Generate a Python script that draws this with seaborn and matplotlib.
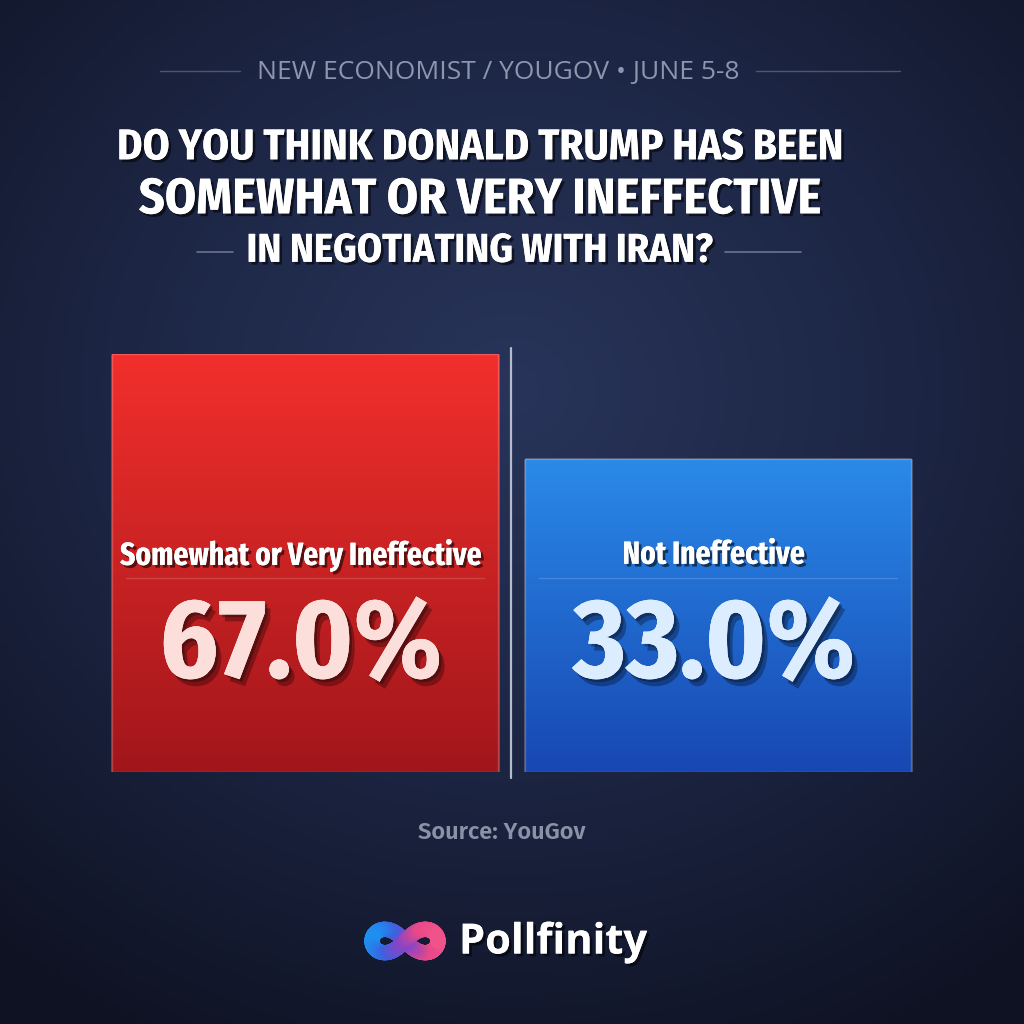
import numpy as np
import pandas as pd
import seaborn as sns
import matplotlib.pyplot as plt
import matplotlib.patheffects as pe
import matplotlib.transforms as mtrans
from matplotlib.colors import LinearSegmentedColormap
from matplotlib.collections import LineCollection

# data
categories = ["Somewhat or Very Ineffective", "Not Ineffective"]
values = [67.0, 33.0]
header = "NEW ECONOMIST / YOUGOV \u2022 JUNE 5-8"
title_lines = ["DO YOU THINK DONALD TRUMP HAS BEEN",
               "SOMEWHAT OR VERY INEFFECTIVE",
               "IN NEGOTIATING WITH IRAN?"]
source = "Source: YouGov"
brand = "Pollfinity"

# style
bar_top = ["#f22f2c", "#2a8ae8"]
bar_bottom = ["#a1161b", "#1747b3"]
pct_color = ["#fcdedb", "#dcedff"]
FLOOR = 68  # bars sit on a visual floor below zero

sns.set_theme(style="white")
COND = ["Fira Sans Condensed", "DejaVu Sans"]
XCOND = ["Fira Sans Extra Condensed", "DejaVu Sans"]
FIRA = ["Fira Sans", "DejaVu Sans"]
OPEN = ["Open Sans", "DejaVu Sans"]
plt.rcParams["font.family"] = ["DejaVu Sans"]

W = 1024
fig = plt.figure(figsize=(10.24, 10.24), dpi=100)

# background, pixel coords (y down)
bg = fig.add_axes([0, 0, 1, 1])
bg.set_axis_off()
yy, xx = np.mgrid[0:1:300j, 0:1:300j]
r = np.sqrt((xx - 0.5) ** 2 + ((yy - 0.38) * 1.1) ** 2)
bg_cmap = LinearSegmentedColormap.from_list("bg", ["#28345a", "#1c2543", "#0e1222"])
bg.imshow(r, cmap=bg_cmap, extent=[0, W, W, 0], aspect="auto", vmin=0, vmax=0.8)
bg.set_xlim(0, W)
bg.set_ylim(W, 0)

shadow = [pe.withSimplePatchShadow(offset=(2, -2), shadow_rgbFace="black", alpha=0.55), pe.Normal()]

# header
bg.text(498, 73, header, ha="center", va="center", fontsize=19, color="#8d96ad", family=OPEN)
for x0, x1 in [(160, 240), (756, 900)]:
    bg.plot([x0, x1], [71, 71], color="#5a6480", lw=1, alpha=0.8)

# title
title_y = [148, 200, 251]
title_fs = [31, 36, 29]
for txt, y, fs in zip(title_lines, title_y, title_fs):
    bg.text(480, y, txt, ha="center", va="center", fontsize=fs, color="white",
            family=COND, fontweight="bold", path_effects=shadow)
for x0, x1 in [(197, 233), (725, 801)]:
    bg.plot([x0, x1], [252, 252], color="#7d87a0", lw=1.2, alpha=0.8)

# bars
ax = fig.add_axes([98.5 / W, 1 - 772 / W, 826 / W, 418 / W])
ax.patch.set_alpha(0)
df = pd.DataFrame({"category": categories, "value": values})
df["height"] = df["value"] + FLOOR
sns.barplot(data=df, x="category", y="height", hue="category", palette=bar_bottom,
            legend=False, width=0.935, saturation=1, bottom=-FLOOR, ax=ax)
ax.set_axis_off()

grad = np.linspace(0, 1, 256).reshape(-1, 1)
for i, patch in enumerate(list(ax.patches)):
    x0, y0 = patch.get_x(), patch.get_y()
    w, h = patch.get_width(), patch.get_height()
    cm = LinearSegmentedColormap.from_list("g%d" % i, [bar_top[i], bar_bottom[i]])
    im = ax.imshow(grad, cmap=cm, extent=[x0, x0 + w, y0, y0 + h], aspect="auto",
                   origin="upper", zorder=3)
    im.set_clip_path(patch)
    ax.add_patch(plt.Rectangle((x0, y0), w, h, fill=False, ec="white", lw=1, alpha=0.2, zorder=4))
ax.set_xlim(-0.5, 1.5)
ax.set_ylim(-FLOOR, max(values))

# texts in bars: x from bar axes, y in pixels
tr = mtrans.blended_transform_factory(ax.transData, bg.transData)
pct_shadow = [pe.withSimplePatchShadow(offset=(4, -5), shadow_rgbFace="black", alpha=0.3),
              pe.withSimplePatchShadow(offset=(2, -2), shadow_rgbFace="black", alpha=0.3),
              pe.Normal()]
for i, patch in enumerate(ax.patches[:len(categories)]):
    cx = patch.get_x() + patch.get_width() / 2
    ax.text(cx - 0.01, 555, categories[i], transform=tr, ha="center", va="center", fontsize=23,
            color="white", family=XCOND, fontweight="bold", path_effects=shadow, zorder=6)
    ax.plot([patch.get_x() + 0.035, patch.get_x() + patch.get_width() - 0.035], [578, 578],
            transform=tr, color="white", alpha=0.15, lw=1, zorder=5)
    ax.text(cx - 0.01, 647, "%.1f%%" % values[i], transform=tr, ha="center", va="center", fontsize=81,
            color=pct_color[i], family=COND, fontweight="bold", zorder=6, path_effects=pct_shadow)

# divider
bg.plot([511, 511], [348, 778], color="#b4bccb", lw=1.6, zorder=5)

# source
bg.text(502, 832, source, ha="center", va="center", fontsize=17, color="#8a92a7",
        family=FIRA, fontweight="semibold")

# logo
t = np.linspace(0, 2 * np.pi, 400)
a = 33
lx = 405 + a * np.cos(t) / (1 + np.sin(t) ** 2)
ly = 941 + a * np.sin(t) * np.cos(t) / (1 + np.sin(t) ** 2)
pts = np.column_stack([lx, ly]).reshape(-1, 1, 2)
segs = np.concatenate([pts[:-1], pts[1:]], axis=1)
logo_cmap = LinearSegmentedColormap.from_list("logo", ["#1e90f0", "#3d63e0", "#8a45c6", "#e6488a", "#f0528a"])
lc = LineCollection(segs, cmap=logo_cmap, lw=11, capstyle="round")
lc.set_array((lx[:-1] - lx.min()) / (lx.max() - lx.min()))
bg.add_collection(lc)
bg.text(459, 943, brand, ha="left", va="center", fontsize=30, color="white",
        family=OPEN, fontweight="bold", path_effects=shadow)

fig.savefig("out.png", dpi=100)
